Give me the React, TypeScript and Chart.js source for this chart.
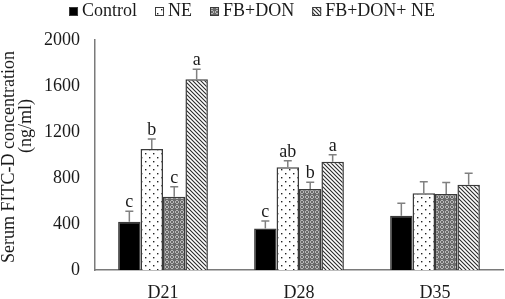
import React, { useEffect, useRef } from 'react';
import { Chart, registerables } from 'chart.js';

Chart.register(...registerables);

const categories = ['D21', 'D28', 'D35'];
const seriesNames = ['Control', 'NE', 'FB+DON', 'FB+DON+ NE'];
const controlValues = [420, 360, 472];
const neValues = [1052, 893, 667];
const fbDonValues = [637, 704, 661];
const fbDonNeValues = [1658, 942, 742];
const controlErrors = [90, 66, 108];
const neErrors = [88, 56, 100];
const fbDonErrors = [88, 58, 100];
const fbDonNeErrors = [88, 60, 100];
const controlLetters = ['c', 'c', ''];
const neLetters = ['b', 'ab', ''];
const fbDonLetters = ['c', 'b', ''];
const fbDonNeLetters = ['a', 'a', ''];
const yTicks = [0, 400, 800, 1200, 1600, 2000];
const yTitleLines = ['Serum FITC-D concentration', '(ng/ml)'];

const FONT = '"Liberation Serif", "Times New Roman", serif';
const TEXT = '#1a1a1a';
const BORDER = '#3a3a3a';

function makeTile(w: number, h: number, draw: (c: CanvasRenderingContext2D) => void) {
  const cv = document.createElement('canvas');
  cv.width = w;
  cv.height = h;
  const c = cv.getContext('2d')!;
  draw(c);
  return cv;
}

function makePatterns(ctx: CanvasRenderingContext2D) {
  const dots = makeTile(8, 8, (c) => {
    c.fillStyle = '#ffffff';
    c.fillRect(0, 0, 8, 8);
    c.fillStyle = '#222';
    c.fillRect(1, 1, 1.4, 1.4);
    c.fillRect(5, 5, 1.4, 1.4);
  });
  const grid = makeTile(5, 5, (c) => {
    c.fillStyle = '#6a6a6a';
    c.fillRect(0, 0, 5, 5);
    c.fillStyle = '#b8b8b8';
    c.fillRect(1, 0, 2, 1);
    c.fillRect(0, 1, 1, 2);
    c.fillRect(3, 1, 1, 2);
    c.fillRect(1, 3, 2, 1);
  });
  const hatch = makeTile(4, 4, (c) => {
    c.fillStyle = '#ffffff';
    c.fillRect(0, 0, 4, 4);
    c.strokeStyle = '#2a2a2a';
    c.lineWidth = 1.1;
    c.beginPath();
    c.moveTo(-1, -1);
    c.lineTo(5, 5);
    c.moveTo(-1, 3);
    c.lineTo(1, 5);
    c.moveTo(3, -1);
    c.lineTo(5, 1);
    c.stroke();
  });
  return {
    dots: ctx.createPattern(dots, 'repeat')!,
    grid: ctx.createPattern(grid, 'repeat')!,
    hatch: ctx.createPattern(hatch, 'repeat')!,
  };
}

const overlayPlugin = {
  id: 'overlay',
  afterDatasetsDraw(chart: any) {
    const ctx = chart.ctx as CanvasRenderingContext2D;
    const ys = chart.scales.y;
    chart.data.datasets.forEach((ds: any, i: number) => {
      const meta = chart.getDatasetMeta(i);
      meta.data.forEach((bar: any, j: number) => {
        const v = ds.data[j];
        const e = ds.errors[j];
        const top = ys.getPixelForValue(v + e);
        ctx.save();
        ctx.strokeStyle = '#808080';
        ctx.lineWidth = 1.5;
        ctx.beginPath();
        ctx.moveTo(bar.x, bar.y);
        ctx.lineTo(bar.x, top);
        ctx.moveTo(bar.x - 4, top);
        ctx.lineTo(bar.x + 4, top);
        ctx.stroke();
        const L = ds.letters[j];
        if (L) {
          ctx.fillStyle = TEXT;
          ctx.font = `18px ${FONT}`;
          ctx.textAlign = 'center';
          ctx.textBaseline = 'alphabetic';
          ctx.fillText(L, bar.x, top - 4);
        }
        ctx.restore();
      });
    });
  },
  afterDraw(chart: any) {
    const ctx = chart.ctx as CanvasRenderingContext2D;
    ctx.save();
    // legend
    ctx.font = `18px ${FONT}`;
    const box = 9;
    const gapBoxText = 4;
    const gapItems = 18;
    const widths = chart.data.datasets.map((ds: any) => box + gapBoxText + ctx.measureText(ds.label).width);
    const total = widths.reduce((a: number, b: number) => a + b, 0) + gapItems * (widths.length - 1);
    let x = 252 - total / 2;
    const baseline = 16;
    chart.data.datasets.forEach((ds: any, i: number) => {
      ctx.fillStyle = ds.backgroundColor;
      ctx.fillRect(x, 7, box, box);
      ctx.strokeStyle = BORDER;
      ctx.lineWidth = 1;
      ctx.strokeRect(x + 0.5, 7.5, box - 1, box - 1);
      ctx.fillStyle = TEXT;
      ctx.textAlign = 'left';
      ctx.textBaseline = 'alphabetic';
      ctx.fillText(ds.label, x + box + gapBoxText, baseline);
      x += widths[i] + gapItems;
    });
    // y title
    const area = chart.chartArea;
    const mid = (area.top + area.bottom) / 2;
    ctx.fillStyle = TEXT;
    ctx.textAlign = 'center';
    ctx.textBaseline = 'alphabetic';
    ctx.translate(14, mid + 2);
    ctx.rotate(-Math.PI / 2);
    ctx.fillText(yTitleLines[0], 0, 0);
    ctx.restore();
    ctx.save();
    ctx.font = `18px ${FONT}`;
    ctx.fillStyle = TEXT;
    ctx.textAlign = 'center';
    ctx.textBaseline = 'alphabetic';
    ctx.translate(31, mid - 29);
    ctx.rotate(-Math.PI / 2);
    ctx.fillText(yTitleLines[1], 0, 0);
    ctx.restore();
  },
};

export default function App() {
  const ref = useRef<HTMLCanvasElement>(null);
  useEffect(() => {
    const canvas = ref.current!;
    const ctx = canvas.getContext('2d')!;
    const p = makePatterns(ctx);
    const mk = (label: string, data: number[], errors: number[], letters: string[], bg: any) => ({
      label,
      data,
      errors,
      letters,
      backgroundColor: bg,
      borderColor: BORDER,
      borderWidth: 1.5,
      categoryPercentage: 0.66,
      barPercentage: 1.0,
    });
    const chart = new Chart(canvas, {
      type: 'bar',
      data: {
        labels: categories,
        datasets: [
          mk(seriesNames[0], controlValues, controlErrors, controlLetters, '#000000'),
          mk(seriesNames[1], neValues, neErrors, neLetters, p.dots),
          mk(seriesNames[2], fbDonValues, fbDonErrors, fbDonLetters, p.grid),
          mk(seriesNames[3], fbDonNeValues, fbDonNeErrors, fbDonNeLetters, p.hatch),
        ] as any,
      },
      options: {
        animation: false,
        responsive: false,
        maintainAspectRatio: false,
        layout: { padding: { left: 0, right: 2, top: 40, bottom: 0 } },
        plugins: {
          legend: { display: false },
          tooltip: { enabled: false },
          title: { display: false },
        },
        scales: {
          x: {
            grid: { display: false, drawTicks: false },
            border: { display: true, color: '#7a7a7a', width: 1.5 },
            ticks: { color: TEXT, font: { family: FONT, size: 18 }, padding: 12 },
            afterFit: (s: any) => { s.height = 29; },
          },
          y: {
            min: 0,
            max: 2000,
            grid: { display: false, drawTicks: false },
            border: { display: true, color: '#7a7a7a', width: 1.5 },
            ticks: {
              color: TEXT,
              font: { family: FONT, size: 18 },
              padding: 15,
              callback: (v: any) => String(v),
            },
            afterBuildTicks: (s: any) => { s.ticks = yTicks.map((v) => ({ value: v })); },
            afterFit: (s: any) => { s.width = 95; },
          },
        },
      },
      plugins: [overlayPlugin],
    });
    return () => chart.destroy();
  }, []);
  return (
    <div style={{ position: 'absolute', left: 0, top: 0, width: 505, height: 299, background: '#fff' }}>
      <canvas ref={ref} width={505} height={299} style={{ display: 'block', width: 505, height: 299 }} />
    </div>
  );
}
